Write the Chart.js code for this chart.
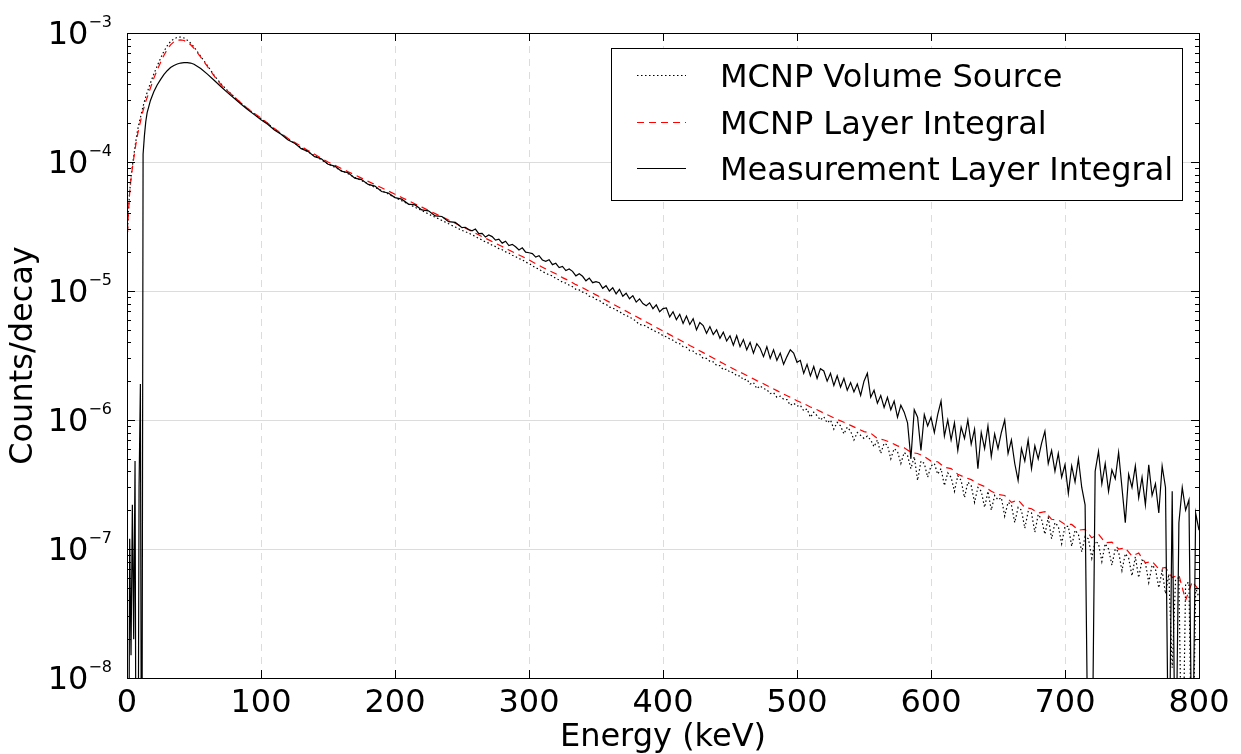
<!DOCTYPE html>
<html>
<head>
<meta charset="utf-8">
<title>Counts per decay vs energy</title>
<script src="https://cdn.jsdelivr.net/npm/chart.js@4.4.1/dist/chart.umd.min.js"></script>
<style>
  html, body { margin: 0; padding: 0; background: #ffffff; }
  #wrap { width: 1241px; height: 754px; }
</style>
</head>
<body>
<div id="wrap"><canvas id="spectrumChart" width="1241" height="754"></canvas></div>
<script>
// Energy bins (keV), shared by all series up to 250 keV
const energyLow = [
    0, 1, 2, 3, 4, 5, 6, 7, 8, 9, 10, 11, 12, 13, 14, 15,
    17.5, 20, 22.5, 25, 27.5, 30, 32.5, 35, 37.5, 40, 42.5, 45, 47.5, 50,
    55, 60, 65, 70, 75, 80, 85, 90, 95, 100,
    105, 110, 115, 120, 125, 130, 135, 140, 145, 150,
    155, 160, 165, 170, 175, 180, 185, 190, 195, 200,
    205, 210, 215, 220, 225, 230, 235, 240, 245, 250
];

// 5 keV bins above 250 keV (layer integral)
const energyHigh5 = [
    255, 260, 265, 270, 275, 280, 285, 290, 295, 300,
    305, 310, 315, 320, 325, 330, 335, 340, 345, 350,
    355, 360, 365, 370, 375, 380, 385, 390, 395, 400,
    405, 410, 415, 420, 425, 430, 435, 440, 445, 450,
    455, 460, 465, 470, 475, 480, 485, 490, 495, 500,
    505, 510, 515, 520, 525, 530, 535, 540, 545, 550,
    555, 560, 565, 570, 575, 580, 585, 590, 595, 600,
    605, 610, 615, 620, 625, 630, 635, 640, 645, 650,
    655, 660, 665, 670, 675, 680, 685, 690, 695, 700,
    705, 710, 715, 720, 725, 730, 735, 740, 745, 750,
    755, 760, 765, 770, 775, 780, 785, 790, 795, 800
];

// 2.5 keV bins above 250 keV (volume source, measurement)
const energyHigh2 = [
    252.5, 255, 257.5, 260, 262.5, 265, 267.5, 270, 272.5, 275, 277.5, 280, 282.5, 285, 287.5, 290, 292.5, 295, 297.5, 300,
    302.5, 305, 307.5, 310, 312.5, 315, 317.5, 320, 322.5, 325, 327.5, 330, 332.5, 335, 337.5, 340, 342.5, 345, 347.5, 350,
    352.5, 355, 357.5, 360, 362.5, 365, 367.5, 370, 372.5, 375, 377.5, 380, 382.5, 385, 387.5, 390, 392.5, 395, 397.5, 400,
    402.5, 405, 407.5, 410, 412.5, 415, 417.5, 420, 422.5, 425, 427.5, 430, 432.5, 435, 437.5, 440, 442.5, 445, 447.5, 450,
    452.5, 455, 457.5, 460, 462.5, 465, 467.5, 470, 472.5, 475, 477.5, 480, 482.5, 485, 487.5, 490, 492.5, 495, 497.5, 500,
    502.5, 505, 507.5, 510, 512.5, 515, 517.5, 520, 522.5, 525, 527.5, 530, 532.5, 535, 537.5, 540, 542.5, 545, 547.5, 550,
    552.5, 555, 557.5, 560, 562.5, 565, 567.5, 570, 572.5, 575, 577.5, 580, 582.5, 585, 587.5, 590, 592.5, 595, 597.5, 600,
    602.5, 605, 607.5, 610, 612.5, 615, 617.5, 620, 622.5, 625, 627.5, 630, 632.5, 635, 637.5, 640, 642.5, 645, 647.5, 650,
    652.5, 655, 657.5, 660, 662.5, 665, 667.5, 670, 672.5, 675, 677.5, 680, 682.5, 685, 687.5, 690, 692.5, 695, 697.5, 700,
    702.5, 705, 707.5, 710, 712.5, 715, 717.5, 720, 722.5, 725, 727.5, 730, 732.5, 735, 737.5, 740, 742.5, 745, 747.5, 750,
    752.5, 755, 757.5, 760, 762.5, 765, 767.5, 770, 772.5, 775, 777.5, 780, 782.5, 785, 787.5, 790, 792.5, 795, 797.5, 800
];

// MCNP Volume Source (counts/decay)
const volumeLow = [
    2.3e-5, 4.1e-5, 5.9e-5, 7.6e-5, 9.3e-5, 1.1e-4, 1.32e-4, 1.55e-4, 1.78e-4, 2.0e-4, 2.2e-4, 2.45e-4, 2.7e-4, 2.95e-4, 3.2e-4, 3.45e-4,
    4.1e-4, 4.8e-4, 5.55e-4, 6.35e-4, 7.2e-4, 7.95e-4, 8.6e-4, 9.0e-4, 9.25e-4, 9.3e-4, 9.15e-4, 8.8e-4, 8.35e-4, 7.8e-4,
    6.6e-4, 5.6e-4, 4.7e-4, 4.05e-4, 3.58e-4, 3.2e-4, 2.87e-4, 2.59e-4, 2.37e-4, 2.17e-4,
    1.99e-4, 1.8e-4, 1.65e-4, 1.51e-4, 1.4e-4, 1.29e-4, 1.2e-4, 1.12e-4, 1.04e-4, 9.7e-5,
    9.1e-5, 8.6e-5, 8.1e-5, 7.6e-5, 7.2e-5, 6.75e-5, 6.35e-5, 6.0e-5, 5.65e-5, 5.3e-5,
    5.0e-5, 4.72e-5, 4.45e-5, 4.2e-5, 3.95e-5, 3.73e-5, 3.52e-5, 3.32e-5, 3.13e-5, 2.95e-5
];
const volumeHigh = [
    2.88e-5, 2.81e-5, 2.72e-5, 2.65e-5, 2.55e-5, 2.49e-5, 2.4e-5, 2.35e-5, 2.26e-5, 2.21e-5, 2.13e-5, 2.09e-5, 2.01e-5, 1.97e-5, 1.89e-5, 1.85e-5, 1.78e-5, 1.75e-5, 1.67e-5, 1.64e-5,
    1.57e-5, 1.51e-5, 1.48e-5, 1.41e-5, 1.38e-5, 1.33e-5, 1.31e-5, 1.25e-5, 1.22e-5, 1.17e-5, 1.15e-5, 1.11e-5, 1.08e-5, 1.03e-5, 1.02e-5, 9.8e-6, 9.6e-6, 9.1e-6, 9.0e-6, 8.6e-6,
    8.45e-6, 8.05e-6, 7.9e-6, 7.5e-6, 7.4e-6, 7.1e-6, 6.95e-6, 6.6e-6, 6.5e-6, 6.25e-6, 6.1e-6, 5.8e-6, 5.5e-6, 5.45e-6, 5.35e-6, 5.1e-6, 5.0e-6, 4.8e-6, 4.72e-6, 4.5e-6,
    4.42e-6, 4.25e-6, 4.15e-6, 3.98e-6, 3.9e-6, 3.7e-6, 3.66e-6, 3.45e-6, 3.42e-6, 3.25e-6, 3.22e-6, 3.0e-6, 3.0e-6, 2.85e-6, 2.82e-6, 2.65e-6, 2.64e-6, 2.45e-6, 2.48e-6, 2.35e-6,
    2.33e-6, 2.2e-6, 2.2e-6, 2.05e-6, 2.07e-6, 1.9e-6, 1.95e-6, 1.75e-6, 1.84e-6, 1.75e-6, 1.72e-6, 1.6e-6, 1.63e-6, 1.5e-6, 1.53e-6, 1.45e-6, 1.44e-6, 1.3e-6, 1.35e-6, 1.28e-6,
    1.3e-6, 1.18e-6, 1.22e-6, 1.05e-6, 1.15e-6, 1.08e-6, 1.0e-6, 1.06e-6, 9.5e-7, 1.0e-6, 8.5e-7, 9.6e-7, 9.0e-7, 7.8e-7, 8.8e-7, 8.2e-7, 7.0e-7, 8.0e-7, 7.6e-7, 7.2e-7,
    7.5e-7, 7.0e-7, 6.2e-7, 7.0e-7, 5.5e-7, 6.6e-7, 6.4e-7, 5.0e-7, 6.0e-7, 5.7e-7, 4.6e-7, 5.6e-7, 5.3e-7, 4.2e-7, 5.2e-7, 3.4e-7, 4.8e-7, 4.6e-7, 3.6e-7, 4.4e-7,
    4.6e-7, 3.8e-7, 4.2e-7, 3.1e-7, 3.9e-7, 3.6e-7, 2.8e-7, 3.7e-7, 3.4e-7, 2.5e-7, 3.3e-7, 3.1e-7, 2.3e-7, 3.0e-7, 2.8e-7, 2.1e-7, 2.8e-7, 2.0e-7, 2.6e-7, 2.4e-7,
    2.5e-7, 1.8e-7, 2.3e-7, 2.2e-7, 1.6e-7, 2.1e-7, 2.0e-7, 1.45e-7, 1.95e-7, 1.9e-7, 1.35e-7, 1.85e-7, 1.7e-7, 1.3e-7, 1.75e-7, 1.2e-7, 1.6e-7, 1.5e-7, 1.1e-7, 1.5e-7,
    1.5e-7, 1.05e-7, 1.4e-7, 1.3e-7, 9.5e-8, 1.25e-7, 1.2e-7, 8.5e-8, 1.15e-7, 1.1e-7, 8.0e-8, 1.1e-7, 1.0e-7, 7.5e-8, 1.0e-7, 9.5e-8, 6.8e-8, 9.2e-8, 8.5e-8, 6.2e-8,
    8.7e-8, 6.0e-8, 8.2e-8, 7.8e-8, 5.5e-8, 7.5e-8, 7.0e-8, 5.0e-8, 6.8e-8, 4.5e-8, 6.4e-8, 1.2e-8, 5.8e-8, 6.0e-8, 1e-9, 5.4e-8, 5.5e-8, 1e-9, 5.0e-8, 4.2e-8
];

// MCNP Layer Integral (counts/decay)
const layerLow = [
    2.3e-5, 4.0e-5, 5.8e-5, 7.4e-5, 9.0e-5, 1.06e-4, 1.25e-4, 1.45e-4, 1.65e-4, 1.85e-4, 2.05e-4, 2.28e-4, 2.5e-4, 2.72e-4, 2.95e-4, 3.15e-4,
    3.75e-4, 4.45e-4, 5.15e-4, 5.9e-4, 6.7e-4, 7.45e-4, 8.1e-4, 8.55e-4, 8.8e-4, 8.85e-4, 8.75e-4, 8.5e-4, 8.1e-4, 7.6e-4,
    6.5e-4, 5.5e-4, 4.65e-4, 4.0e-4, 3.55e-4, 3.2e-4, 2.88e-4, 2.6e-4, 2.38e-4, 2.19e-4,
    2.0e-4, 1.82e-4, 1.67e-4, 1.53e-4, 1.42e-4, 1.32e-4, 1.23e-4, 1.15e-4, 1.07e-4, 1.0e-4,
    9.44e-5, 8.91e-5, 8.41e-5, 7.94e-5, 7.5e-5, 7.08e-5, 6.68e-5, 6.31e-5, 5.96e-5, 5.62e-5,
    5.31e-5, 5.01e-5, 4.73e-5, 4.47e-5, 4.22e-5, 3.98e-5, 3.76e-5, 3.55e-5, 3.35e-5, 3.16e-5
];
const layerHigh = [
    2.98e-5, 2.81e-5, 2.64e-5, 2.49e-5, 2.34e-5, 2.21e-5, 2.08e-5, 1.96e-5, 1.85e-5, 1.74e-5,
    1.63e-5, 1.53e-5, 1.44e-5, 1.36e-5, 1.27e-5, 1.20e-5, 1.12e-5, 1.06e-5, 9.93e-6, 9.33e-6,
    8.75e-6, 8.2e-6, 7.69e-6, 7.21e-6, 6.76e-6, 6.34e-6, 5.94e-6, 5.57e-6, 5.22e-6, 4.9e-6,
    4.59e-6, 4.31e-6, 4.04e-6, 3.78e-6, 3.55e-6, 3.33e-6, 3.12e-6, 2.92e-6, 2.74e-6, 2.57e-6,
    2.42e-6, 2.28e-6, 2.15e-6, 2.02e-6, 1.91e-6, 1.79e-6, 1.69e-6, 1.59e-6, 1.5e-6, 1.41e-6,
    1.34e-6, 1.26e-6, 1.2e-6, 1.13e-6, 1.07e-6, 1.01e-6, 9.6e-7, 9.08e-7, 8.59e-7, 8.13e-7,
    7.9e-7, 7.2e-7, 7.0e-7, 6.7e-7, 6.3e-7, 6.1e-7, 5.6e-7, 5.5e-7, 5.2e-7, 4.8e-7,
    4.75e-7, 4.3e-7, 4.2e-7, 3.8e-7, 3.6e-7, 3.45e-7, 3.2e-7, 3.05e-7, 2.8e-7, 2.65e-7,
    2.6e-7, 2.3e-7, 2.4e-7, 2.1e-7, 2.05e-7, 1.9e-7, 1.95e-7, 1.7e-7, 1.68e-7, 1.55e-7,
    1.55e-7, 1.4e-7, 1.42e-7, 1.22e-7, 1.3e-7, 1.12e-7, 1.13e-7, 1.0e-7, 1.02e-7, 8.8e-8,
    9.3e-8, 7.8e-8, 8.0e-8, 7.0e-8, 7.2e-8, 6.0e-8, 6.3e-8, 4.0e-8, 5.6e-8, 4.8e-8
];

// Measurement Layer Integral (counts/decay); 1e-10 / 1e-9 = empty bin, below the axis
const measLow = [
    1e-10, 1e-10, 1.2e-7, 1.5e-8, 2.2e-7, 2e-8, 4.8e-7, 1e-10, 1e-10, 3e-7, 1.9e-6, 1e-10, 1.15e-4, 1.6e-4, 2.05e-4, 2.4e-4,
    3.0e-4, 3.5e-4, 3.95e-4, 4.35e-4, 4.75e-4, 5.1e-4, 5.4e-4, 5.6e-4, 5.75e-4, 5.85e-4, 5.9e-4, 5.9e-4, 5.85e-4, 5.72e-4,
    5.3e-4, 4.8e-4, 4.3e-4, 3.85e-4, 3.45e-4, 3.12e-4, 2.82e-4, 2.55e-4, 2.33e-4, 2.13e-4,
    1.96e-4, 1.77e-4, 1.64e-4, 1.49e-4, 1.40e-4, 1.27e-4, 1.21e-4, 1.10e-4, 1.06e-4, 9.6e-5,
    9.3e-5, 8.5e-5, 8.25e-5, 7.5e-5, 7.3e-5, 6.7e-5, 6.5e-5, 5.9e-5, 5.75e-5, 5.3e-5,
    5.15e-5, 4.72e-5, 4.65e-5, 4.25e-5, 4.18e-5, 3.82e-5, 3.78e-5, 3.45e-5, 3.4e-5, 3.1e-5
];
const measHigh = [
    3.12e-5, 3.0e-5, 2.93e-5, 3.02e-5, 2.78e-5, 2.8e-5, 2.62e-5, 2.72e-5, 2.64e-5, 2.48e-5, 2.52e-5, 2.35e-5, 2.43e-5, 2.25e-5, 2.3e-5, 2.2e-5, 2.08e-5, 2.16e-5, 2.0e-5, 1.98e-5,
    1.95e-5, 1.83e-5, 1.88e-5, 1.74e-5, 1.7e-5, 1.75e-5, 1.6e-5, 1.64e-5, 1.52e-5, 1.55e-5, 1.44e-5, 1.48e-5, 1.42e-5, 1.31e-5, 1.36e-5, 1.3e-5, 1.2e-5, 1.26e-5, 1.16e-5, 1.18e-5,
    1.16e-5, 1.05e-5, 1.1e-5, 1.0e-5, 1.06e-5, 9.5e-6, 1.03e-5, 9.1e-6, 9.6e-6, 8.7e-6, 9.2e-6, 8.2e-6, 8.7e-6, 8.0e-6, 7.7e-6, 8.1e-6, 7.3e-6, 7.8e-6, 6.9e-6, 7.3e-6,
    7.4e-6, 6.3e-6, 6.9e-6, 6.0e-6, 6.6e-6, 5.6e-6, 6.4e-6, 5.5e-6, 6.1e-6, 5.0e-6, 5.7e-6, 5.4e-6, 4.7e-6, 5.3e-6, 4.6e-6, 5.0e-6, 4.3e-6, 4.8e-6, 4.1e-6, 4.5e-6,
    3.8e-6, 4.5e-6, 3.7e-6, 4.2e-6, 3.5e-6, 4.0e-6, 3.3e-6, 3.9e-6, 3.6e-6, 3.1e-6, 3.7e-6, 3.0e-6, 3.5e-6, 2.9e-6, 3.3e-6, 2.7e-6, 3.1e-6, 3.5e-6, 3.3e-6, 2.8e-6,
    2.9e-6, 2.3e-6, 2.7e-6, 2.2e-6, 2.6e-6, 2.1e-6, 2.5e-6, 2.4e-6, 2.0e-6, 2.3e-6, 1.85e-6, 2.2e-6, 1.8e-6, 2.1e-6, 1.7e-6, 1.95e-6, 1.65e-6, 1.9e-6, 1.55e-6, 2.0e-6,
    2.3e-6, 1.5e-6, 1.7e-6, 1.35e-6, 1.55e-6, 1.25e-6, 1.5e-6, 1.2e-6, 1.4e-6, 1.05e-6, 1.3e-6, 1.15e-6, 9.5e-7, 5.0e-7, 1.2e-6, 1.05e-6, 5.8e-7, 1.1e-6, 9.0e-7, 1.05e-6,
    8.0e-7, 1.1e-6, 1.4e-6, 7.5e-7, 1.0e-6, 7.0e-7, 9.5e-7, 5.8e-7, 8.8e-7, 7.2e-7, 1.0e-6, 6.5e-7, 8.5e-7, 4.2e-7, 8.0e-7, 6.0e-7, 9.0e-7, 5.2e-7, 7.8e-7, 6.0e-7,
    8.0e-7, 1.0e-6, 5.5e-7, 7.0e-7, 4.6e-7, 3.4e-7, 6.0e-7, 4.8e-7, 7.0e-7, 4.2e-7, 6.3e-7, 5.0e-7, 6.6e-7, 8.2e-7, 4.6e-7, 5.8e-7, 4.0e-7, 5.5e-7, 3.6e-7, 4.5e-7,
    2.7e-7, 4.4e-7, 3.3e-7, 5.0e-7, 3.0e-7, 2.2e-7, 1e-9, 1e-9, 4.0e-7, 5.7e-7, 3.2e-7, 4.6e-7, 2.8e-7, 4.1e-7, 3.5e-7, 5.6e-7, 3.0e-7, 1.6e-7, 3.8e-7, 3.0e-7,
    4.4e-7, 2.5e-7, 3.6e-7, 2.2e-7, 4.5e-7, 2.6e-7, 3.2e-7, 1.9e-7, 4.4e-7, 3.0e-7, 1e-9, 2.8e-7, 1e-9, 1.6e-7, 3.0e-7, 2.0e-7, 2.4e-7, 1e-9, 1.9e-7, 1.4e-7
];

// Axis ticks
const xTicks = [0, 100, 200, 300, 400, 500, 600, 700, 800];
const yTickValues = [1e-8, 1e-7, 1e-6, 1e-5, 1e-4, 1e-3];
const yTickExponents = ['\u22128', '\u22127', '\u22126', '\u22125', '\u22124', '\u22123'];

const FONT = "'DejaVu Sans', 'Liberation Sans', sans-serif";

function toPoints(lowE, lowV, highE, highV) {
    const pts = lowE.map((e, i) => ({ x: e, y: lowV[i] }));
    return pts.concat(highE.map((e, i) => ({ x: e, y: highV[i] })));
}

// Grid lines, frame, inward ticks, y labels with superscripts and the boxed legend
const axesDecor = {
    id: 'axesDecor',
    beforeDatasetsDraw(chart) {
        const { ctx, chartArea: a, scales: { x, y } } = chart;
        ctx.save();
        ctx.lineWidth = 1;
        ctx.strokeStyle = '#dcdcdc';
        yTickValues.forEach(v => {
            const py = Math.round(y.getPixelForValue(v)) + 0.5;
            ctx.beginPath();
            ctx.moveTo(a.left, py);
            ctx.lineTo(a.right, py);
            ctx.stroke();
        });
        ctx.setLineDash([7, 6]);
        xTicks.forEach(v => {
            const px = Math.round(x.getPixelForValue(v)) + 0.5;
            ctx.beginPath();
            ctx.moveTo(px, a.top);
            ctx.lineTo(px, a.bottom);
            ctx.stroke();
        });
        ctx.restore();
    },
    afterDraw(chart) {
        const { ctx, chartArea: a, scales: { x, y } } = chart;
        ctx.save();
        ctx.strokeStyle = '#000';
        ctx.lineWidth = 1;

        // frame
        ctx.strokeRect(Math.round(a.left) + 0.5, Math.round(a.top) + 0.5,
            Math.round(a.right - a.left), Math.round(a.bottom - a.top));

        // x major ticks (bottom and top, inward)
        xTicks.forEach(v => {
            const px = Math.round(x.getPixelForValue(v)) + 0.5;
            ctx.beginPath();
            ctx.moveTo(px, a.bottom); ctx.lineTo(px, a.bottom - 8);
            ctx.moveTo(px, a.top); ctx.lineTo(px, a.top + 8);
            ctx.stroke();
        });

        // y major and minor ticks (left and right, inward)
        yTickValues.forEach((v, i) => {
            const py = Math.round(y.getPixelForValue(v)) + 0.5;
            ctx.beginPath();
            ctx.moveTo(a.left, py); ctx.lineTo(a.left + 8, py);
            ctx.moveTo(a.right, py); ctx.lineTo(a.right - 8, py);
            ctx.stroke();
            if (i < yTickValues.length - 1) {
                for (let m = 2; m <= 9; m++) {
                    const pm = Math.round(y.getPixelForValue(m * v)) + 0.5;
                    ctx.beginPath();
                    ctx.moveTo(a.left, pm); ctx.lineTo(a.left + 4, pm);
                    ctx.moveTo(a.right, pm); ctx.lineTo(a.right - 4, pm);
                    ctx.stroke();
                }
            }
        });

        // y tick labels: 10 with a superscript exponent
        ctx.fillStyle = '#000';
        ctx.textBaseline = 'alphabetic';
        ctx.textAlign = 'right';
        yTickValues.forEach((v, i) => {
            const py = y.getPixelForValue(v);
            ctx.font = '16px ' + FONT;
            ctx.fillText(yTickExponents[i], 112, py - 6);
            const expW = ctx.measureText(yTickExponents[i]).width;
            ctx.font = '32px ' + FONT;
            ctx.fillText('10', 112 - expW, py + 11);
        });

        // legend
        const box = { left: 611, top: 48, right: 1182, bottom: 200 };
        ctx.fillStyle = '#fff';
        ctx.fillRect(box.left, box.top, box.right - box.left, box.bottom - box.top);
        ctx.strokeStyle = '#000';
        ctx.strokeRect(box.left + 0.5, box.top + 0.5, box.right - box.left, box.bottom - box.top);
        const rows = [75, 122, 168];
        chart.data.datasets.forEach((ds, i) => {
            const ry = rows[i] + 0.5;
            ctx.save();
            ctx.strokeStyle = ds.borderColor;
            ctx.lineWidth = ds.borderWidth;
            ctx.setLineDash(ds.borderDash || []);
            ctx.beginPath();
            ctx.moveTo(637, ry);
            ctx.lineTo(686, ry);
            ctx.stroke();
            ctx.restore();
            ctx.fillStyle = '#000';
            ctx.font = '32px ' + FONT;
            ctx.textAlign = 'left';
            ctx.fillText(ds.label, 720, rows[i] + 11.5);
        });
        ctx.restore();
    }
};

const ctx = document.getElementById('spectrumChart').getContext('2d');

const spectrumChart = new Chart(ctx, {
    type: 'line',
    data: {
        datasets: [{
            label: 'MCNP Volume Source',
            data: toPoints(energyLow, volumeLow, energyHigh2, volumeHigh),
            borderColor: '#000000',
            borderWidth: 1.2,
            borderDash: [1.5, 2.5],
            order: 3
        }, {
            label: 'MCNP Layer Integral',
            data: toPoints(energyLow, layerLow, energyHigh5, layerHigh),
            borderColor: '#ff0000',
            borderWidth: 1.2,
            borderDash: [7, 5],
            order: 2
        }, {
            label: 'Measurement Layer Integral',
            data: toPoints(energyLow, measLow, energyHigh2, measHigh),
            borderColor: '#000000',
            borderWidth: 1.2,
            order: 1
        }]
    },
    options: {
        responsive: false,
        animation: false,
        devicePixelRatio: 1,
        layout: { padding: { top: 33, right: 42, left: 0, bottom: 0 } },
        elements: {
            point: { radius: 0 },
            line: { tension: 0, fill: false }
        },
        plugins: {
            legend: { display: false },
            tooltip: { enabled: false }
        },
        scales: {
            x: {
                type: 'linear',
                min: 0,
                max: 800,
                afterBuildTicks: scale => { scale.ticks = xTicks.map(v => ({ value: v })); },
                afterFit: scale => { scale.height = 76; },
                grid: { display: false, drawTicks: false },
                border: { display: false },
                ticks: {
                    color: '#000',
                    padding: 6,
                    maxRotation: 0,
                    font: { family: FONT, size: 32 }
                },
                title: {
                    display: true,
                    text: 'Energy (keV)',
                    color: '#000',
                    padding: 0,
                    font: { family: FONT, size: 32, lineHeight: 1 }
                }
            },
            y: {
                type: 'logarithmic',
                min: 1e-8,
                max: 1e-3,
                afterBuildTicks: scale => { scale.ticks = yTickValues.map(v => ({ value: v })); },
                afterFit: scale => { scale.width = 127; },
                grid: { display: false, drawTicks: false },
                border: { display: false },
                ticks: { display: false },
                title: {
                    display: true,
                    text: 'Counts/decay',
                    color: '#000',
                    padding: { top: 8, bottom: 0 },
                    font: { family: FONT, size: 32, lineHeight: 1 }
                }
            }
        }
    },
    plugins: [axesDecor]
});
</script>
</body>
</html>
